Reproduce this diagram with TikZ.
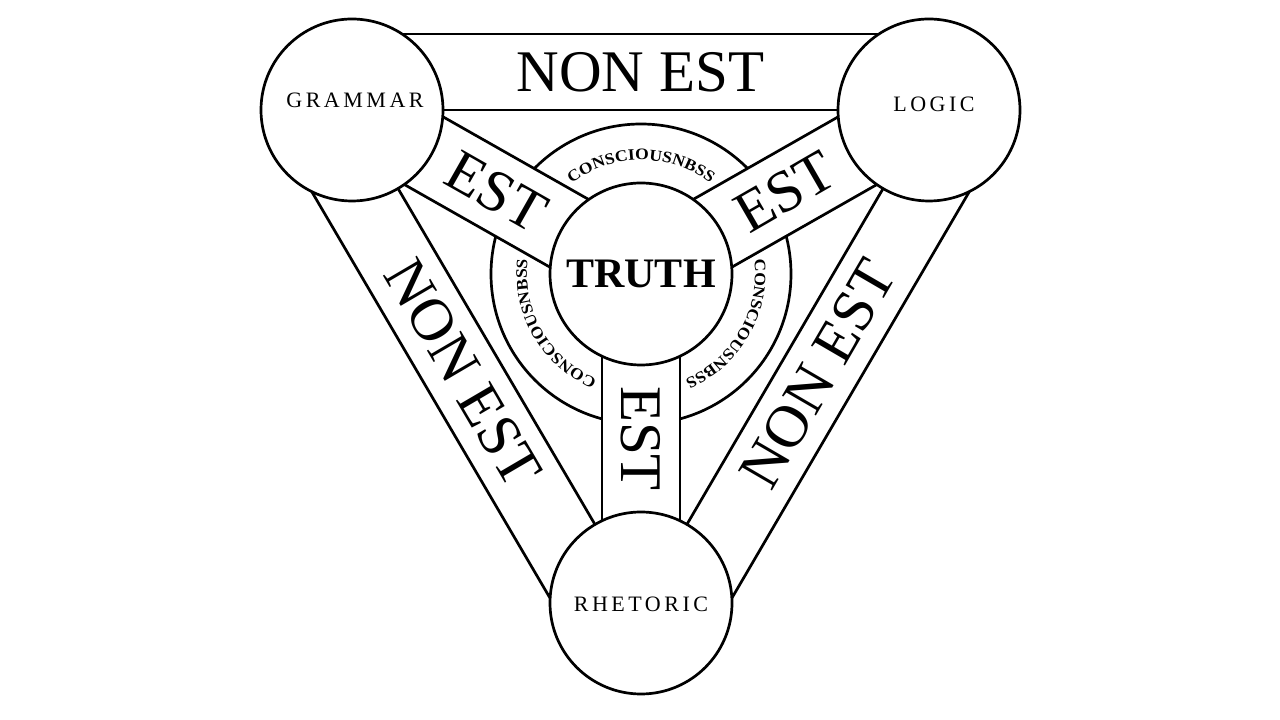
\documentclass[tikz,border=0pt]{standalone}
\usepackage{fontspec}
\setmainfont{Liberation Serif}
\newfontfamily\labelfont[LetterSpace=16]{Liberation Serif}
\newfontfamily\ringfont[FakeStretch=1.1]{Liberation Serif}
\newcommand\ringstyle{\ringfont\bfseries\fontsize{16}{17}\selectfont}
\newcommand\lblstyle{\labelfont\fontsize{22}{24}\selectfont}
\usetikzlibrary{calc,decorations.text}
\begin{document}
\begin{tikzpicture}[x=1pt,y=1pt,line width=2.7pt,
  disc/.style={circle,draw,fill=white,minimum size=182pt,inner sep=0pt},
  barbox/.style={draw,fill=white,line join=miter},
  bigtext/.style={font=\fontsize{59}{60}\selectfont,inner sep=0pt},
  sidetext/.style={font=\fontsize{60}{61}\selectfont,inner sep=0pt},
  lbl/.style={font=\lblstyle,inner sep=0pt},
  ringtext/.style={decorate,decoration={text along path,text align=center,text={|\ringstyle|CONSCIOUSNBSS}}}]
\useasboundingbox[fill=white] (0,0) rectangle (1280,720);
\coordinate (G) at (352,610);
\coordinate (L) at (929,610);
\coordinate (R) at (641,117);
\coordinate (T) at (641,446);
% outer NON EST bars
\draw[barbox] (G) -- (L) -- ($(L)!76pt!-90:(G)$) -- ($(G)!76pt!90:(L)$) -- cycle;
\draw[barbox] (G) -- (R) -- ($(R)!76pt!90:(G)$) -- ($(G)!76pt!-90:(R)$) -- cycle;
\draw[barbox] (L) -- (R) -- ($(R)!76pt!-90:(L)$) -- ($(L)!76pt!90:(R)$) -- cycle;
% consciousness ring
\draw (T) circle[radius=150];
% EST bars
\foreach \X in {G,L,R}{
  \fill[white] ($(T)!39pt!90:(\X)$) -- ($(\X)!39pt!-90:(T)$) -- ($(\X)!39pt!90:(T)$) -- ($(T)!39pt!-90:(\X)$) -- cycle;
  \draw ($(T)!39pt!90:(\X)$) -- ($(\X)!39pt!-90:(T)$);
  \draw ($(T)!39pt!-90:(\X)$) -- ($(\X)!39pt!90:(T)$);
}
% circles
\node[disc] (grammar) at (G) {};
\node[disc] (logic) at (L) {};
\node[disc] (rhetoric) at (R) {};
\node[disc] (truth) at (T) {};
% labels
\node[lbl] (grammarlbl) at (355,620) {GRAMMAR};
\node[lbl] (logiclbl) at (934,616) {LOGIC};
\node[lbl] (rhetoriclbl) at (641,116) {RHETORIC};
\node[font=\bfseries\fontsize{42}{42}\selectfont,inner sep=0pt] (truthlbl) at (T) {TRUTH};
% NON EST texts
\node[bigtext] (nonesttop) at (640.5,648) {NON EST};
\node[sidetext,rotate=-59.6] (nonestleft) at (463,347) {NON EST};
\node[sidetext,rotate=59.8] (nonestright) at (818,346) {NON EST};
% EST texts
\node[bigtext,rotate=-29.6] (estg) at ($(G)!0.5!(T)$) {EST};
\node[bigtext,rotate=30] (estl) at ($(L)!0.5!(T)$) {EST};
\node[bigtext,rotate=-90] (estr) at ($(R)!0.5!(T)$) {EST};
% ring texts
\path[ringtext] ($(T)+(135:114)$) arc[start angle=135,end angle=45,radius=114];
\path[ringtext] ($(T)+(15:114)$) arc[start angle=15,end angle=-75,radius=114];
\path[ringtext] ($(T)+(255:114)$) arc[start angle=255,end angle=165,radius=114];
\end{tikzpicture}
\end{document}
